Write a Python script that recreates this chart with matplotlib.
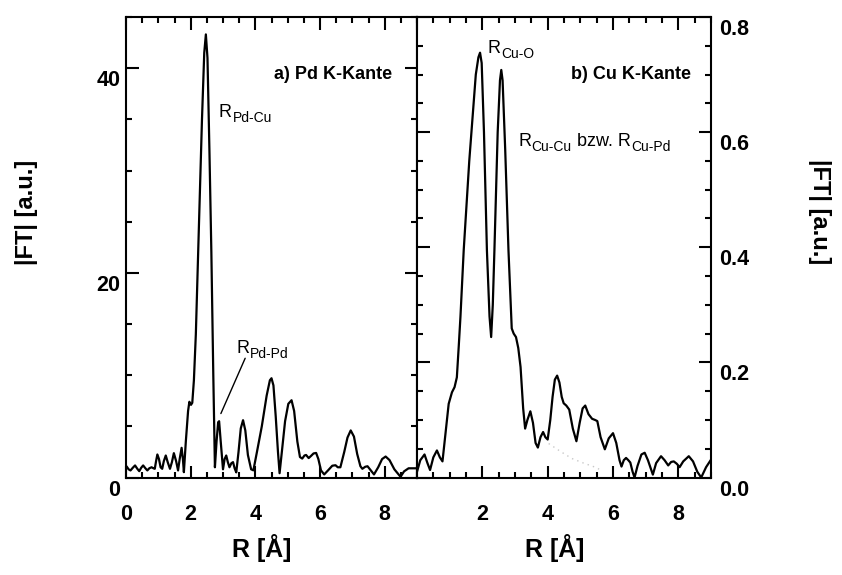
# ===================================================================
# plot.py: Fourier transformed EXAFS spectra, Pd K-edge and Cu K-edge
# ===================================================================

import matplotlib
matplotlib.use("Agg")

import matplotlib.pyplot as plt
from matplotlib.ticker import MultipleLocator
from matplotlib.transforms import ScaledTranslation

plt.rcParams['font.family'] = ['Liberation Sans', 'DejaVu Sans']

# ---------------------------------------------------------------
# Data read off the picture ...
# ---------------------------------------------------------------

# a) Pd K-Kante

pd_r = [0.00, 0.02, 0.08, 0.14, 0.21, 0.28, 0.35, 0.41, 0.47, 0.53,
        0.60, 0.66, 0.72, 0.79, 0.85, 0.89, 0.93, 0.97, 1.02, 1.07,
        1.12, 1.17, 1.23, 1.29, 1.36, 1.42, 1.48, 1.55, 1.61, 1.66,
        1.72, 1.76, 1.79, 1.85, 1.92, 1.96, 2.01, 2.05, 2.10, 2.16,
        2.25, 2.35, 2.42, 2.47, 2.52, 2.58, 2.64, 2.70, 2.75, 2.80,
        2.85, 2.88, 2.93, 3.00, 3.05, 3.10, 3.15, 3.20, 3.26, 3.31,
        3.36, 3.41, 3.48, 3.55, 3.62, 3.69, 3.77, 3.87, 3.94, 4.05,
        4.20, 4.35, 4.45, 4.50, 4.56, 4.63, 4.70, 4.75, 4.82, 4.92,
        5.02, 5.12, 5.20, 5.30, 5.38, 5.45, 5.52, 5.57, 5.65, 5.72,
        5.80, 5.88, 5.95, 6.03, 6.13, 6.25, 6.38, 6.48, 6.55, 6.63,
        6.75, 6.85, 6.95, 7.05, 7.15, 7.25, 7.31, 7.40, 7.47, 7.57,
        7.67, 7.80, 7.92, 8.03, 8.15, 8.30, 8.49, 8.60, 8.74, 9.00]

pd_ft = [1.00, 1.08, 0.80, 0.69, 0.95, 1.18, 0.85, 0.62, 0.95, 1.18,
         0.90, 0.69, 0.90, 1.00, 0.90, 0.85, 1.60, 2.25, 1.80, 1.00,
         0.85, 1.60, 2.15, 1.50, 0.85, 1.50, 2.38, 1.60, 0.69, 1.80,
         2.90, 1.80, 0.52, 3.50, 6.50, 7.40, 7.10, 7.30, 9.50, 14.0,
         24.0, 35.0, 41.5, 43.3, 41.0, 32.0, 22.0, 10.0, 1.00, 3.50,
         5.40, 5.50, 3.50, 0.80, 1.80, 2.15, 1.50, 1.00, 1.40, 1.50,
         0.90, 0.50, 2.50, 4.80, 5.60, 4.60, 2.20, 0.80, 0.70, 2.50,
         5.00, 8.00, 9.50, 9.70, 9.00, 6.00, 2.50, 0.42, 2.50, 5.50,
         7.20, 7.55, 6.50, 3.50, 2.00, 1.85, 2.15, 2.20, 1.90, 2.10,
         2.35, 2.40, 1.80, 0.70, 0.30, 0.70, 1.15, 1.20, 1.00, 1.00,
         2.50, 3.90, 4.60, 4.00, 2.30, 1.10, 0.85, 1.05, 1.10, 0.70,
         0.30, 1.00, 1.80, 2.05, 1.70, 0.80, 0.07, 0.60, 0.90, 0.90]

# b) Cu K-Kante

cu_r = [0.00, 0.10, 0.23, 0.32, 0.40, 0.50, 0.61, 0.70, 0.78, 0.86,
        0.97, 1.07, 1.15, 1.22, 1.28, 1.33, 1.43, 1.60, 1.80, 1.88,
        1.93, 1.98, 2.05, 2.14, 2.22, 2.27, 2.32, 2.37, 2.47, 2.54,
        2.58, 2.62, 2.70, 2.80, 2.90, 2.96, 3.03, 3.10, 3.17, 3.25,
        3.31, 3.38, 3.47, 3.55, 3.63, 3.70, 3.78, 3.86, 3.93, 4.00,
        4.08, 4.15, 4.22, 4.29, 4.36, 4.43, 4.49, 4.57, 4.66, 4.77,
        4.88, 4.98, 5.07, 5.15, 5.25, 5.36, 5.45, 5.52, 5.62, 5.75,
        5.87, 6.00, 6.10, 6.20, 6.26, 6.33, 6.40, 6.47, 6.53, 6.60,
        6.66, 6.75, 6.87, 6.97, 7.07, 7.22, 7.32, 7.47, 7.58, 7.69,
        7.78, 7.86, 7.95, 8.04, 8.15, 8.32, 8.45, 8.58, 8.70, 8.85,
        9.00]

cu_ft = [0.010, 0.030, 0.040, 0.025, 0.013, 0.035, 0.047, 0.035, 0.028, 0.070,
         0.128, 0.148, 0.157, 0.174, 0.230, 0.279, 0.395, 0.550, 0.700, 0.730,
         0.738, 0.720, 0.600, 0.395, 0.280, 0.244, 0.300, 0.395, 0.600, 0.690,
         0.708, 0.690, 0.570, 0.395, 0.259, 0.250, 0.244, 0.225, 0.192, 0.120,
         0.085, 0.100, 0.115, 0.095, 0.060, 0.052, 0.070, 0.079, 0.070, 0.066,
         0.100, 0.140, 0.170, 0.177, 0.165, 0.140, 0.129, 0.125, 0.118, 0.085,
         0.063, 0.095, 0.120, 0.125, 0.110, 0.102, 0.100, 0.098, 0.070, 0.049,
         0.068, 0.077, 0.060, 0.030, 0.019, 0.030, 0.034, 0.030, 0.026, 0.010,
         0.000, 0.020, 0.040, 0.043, 0.030, 0.005, 0.025, 0.037, 0.030, 0.021,
         0.027, 0.028, 0.024, 0.018, 0.028, 0.037, 0.028, 0.010, 0.000, 0.018,
         0.031]

# faint dotted trace left over in panel b)

ghost_r  = [4.03, 4.40, 4.74, 5.10, 5.45, 5.66]
ghost_ft = [0.059, 0.045, 0.033, 0.025, 0.018, 0.012]

W, H = 842, 575

# ===============================================================
# Helpers ...
# ===============================================================

def fx(px):
    return px / W

def fy(py):
    return 1.0 - py / H

def rich_label(fig, x, y, parts):
    # parts: (text, subscript?) ; x, y = left edge / baseline in pixels
    renderer = fig.canvas.get_renderer()
    for txt, sub in parts:
        t = fig.text(fx(x), fy(y + (5.0 if sub else 0.0)), txt,
                     fontsize=10 if sub else 13, ha='left', va='baseline')
        x = t.get_window_extent(renderer).x1 + 0.5

def style_axis(ax, ymajor, yminor):
    ax.set_xlim(0, 9)
    ax.xaxis.set_minor_locator(MultipleLocator(0.5))
    ax.yaxis.set_major_locator(MultipleLocator(ymajor))
    ax.yaxis.set_minor_locator(MultipleLocator(yminor))
    ax.tick_params(which='both', direction='in', top=True, bottom=True,
                   left=True, right=True, width=1.5, labelsize=15.5)
    ax.tick_params(which='major', length=9)
    ax.tick_params(which='minor', length=4.5)
    ax.tick_params(axis='x', pad=19)
    for s in ax.spines.values():
        s.set_linewidth(1.5)

# ===============================================================
# Main function ...
# ===============================================================

def main():
    fig = plt.figure(figsize=(W / 100, H / 100), dpi=100)

    axa = fig.add_axes([fx(126), fy(477.5), fx(417) - fx(126), fy(17) - fy(477.5)])
    axb = fig.add_axes([fx(417), fy(477.5), fx(711) - fx(417), fy(17) - fy(477.5)])

    # Panel a) ...

    axa.plot(pd_r, pd_ft, color='black', lw=1.6)
    axa.set_ylim(0, 45)
    style_axis(axa, 20, 5)
    axa.set_xticks([0, 2, 4, 6, 8])
    axa.set_yticks([0, 20, 40])
    axa.tick_params(axis='y', labelleft=True, labelright=False, pad=4)

    axa.text(0.914, 0.876, "a) Pd K-Kante", transform=axa.transAxes,
             fontsize=13, fontweight='bold', ha='right', va='center')
    axa.annotate('', xy=(2.90, 6.0), xytext=(3.72, 11.9),
                 arrowprops=dict(arrowstyle='-', lw=1.0, color='black'))

    # Panel b) ...

    axb.plot(ghost_r, ghost_ft, color='#c8c8c8', lw=1.0, ls=(0, (1, 3)))
    axb.plot(cu_r, cu_ft, color='black', lw=1.6)
    axb.set_ylim(0, 0.8)
    style_axis(axb, 0.2, 0.05)
    axb.set_xticks([0, 2, 4, 6, 8])
    axb.set_xticklabels(['', '2', '4', '6', '8'])
    axb.set_yticks([0.0, 0.2, 0.4, 0.6, 0.8])
    axb.set_yticklabels(['0.0', '0.2', '0.4', '0.6', '0.8'])
    axb.tick_params(axis='y', labelleft=False, labelright=True, pad=6)

    axb.text(0.932, 0.876, "b) Cu K-Kante", transform=axb.transAxes,
             fontsize=13, fontweight='bold', ha='right', va='center')

    for ax in (axa, axb):
        for lbl in ax.get_xticklabels() + ax.get_yticklabels():
            lbl.set_fontweight('bold')
        for lbl in ax.get_yticklabels():
            lbl.set_transform(lbl.get_transform() +
                              ScaledTranslation(0, -0.10, fig.dpi_scale_trans))

    # Axis titles ...

    fig.text(fx(262), fy(548), "R [Å]", fontsize=18, fontweight='bold',
             ha='center', va='center')
    fig.text(fx(555), fy(548), "R [Å]", fontsize=18, fontweight='bold',
             ha='center', va='center')
    fig.text(fx(27), fy(212), "|FT| [a.u.]", fontsize=17, fontweight='bold',
             rotation=90, ha='center', va='center')
    fig.text(fx(820), fy(212), "|FT| [a.u.]", fontsize=17, fontweight='bold',
             rotation=270, ha='center', va='center')

    # Peak labels ...

    rich_label(fig, 219, 117, [("R", False), ("Pd-Cu", True)])
    rich_label(fig, 236, 353, [("R", False), ("Pd-Pd", True)])
    rich_label(fig, 487.7, 53, [("R", False), ("Cu-O", True)])
    rich_label(fig, 518, 146, [("R", False), ("Cu-Cu", True),
                               (" bzw. R", False), ("Cu-Pd", True)])

    fig.savefig("out.png", dpi=100)

# call the main method ...

if __name__ == "__main__":
    main()
